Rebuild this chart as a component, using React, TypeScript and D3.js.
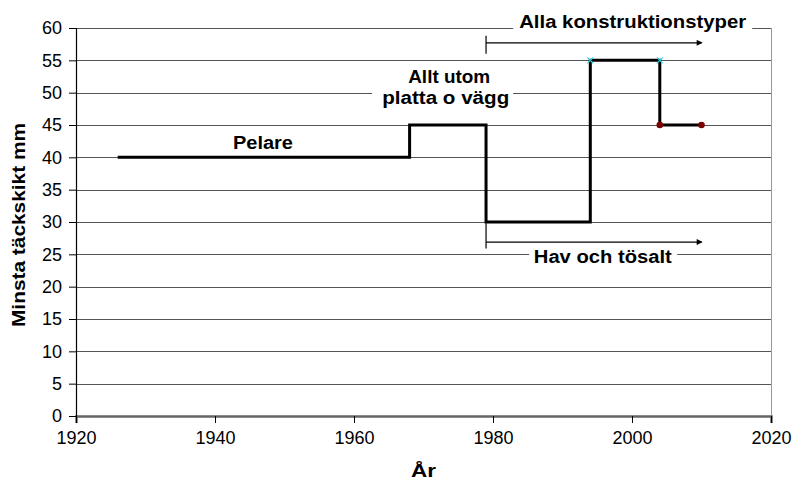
import React, { useEffect, useRef } from 'react';
import * as d3 from 'd3';

// Step series: year where the rule starts, minimum cover (mm)
const stepYears = [1926, 1968, 1979, 1994, 2004, 2010];
const stepValues = [40, 45, 30, 55, 45, 45];

// small markers sitting on the step corners
const cyanYears = [1994, 2004];
const cyanValues = [55, 55];
const redYears = [2004, 2010];
const redValues = [45, 45];

const yTicks = [0, 5, 10, 15, 20, 25, 30, 35, 40, 45, 50, 55, 60];
const xTicks = [1920, 1940, 1960, 1980, 2000, 2020];

// annotation arrows (start year, end year, level, tick top, tick bottom)
const arrowStart = [1979, 1979];
const arrowEnd = [2010, 2010];
const arrowLevel = [57.7, 26.9];
const arrowTop = [58.8, 29.8];
const arrowBottom = [56.0, 25.9];

// annotation texts, anchored in data units (centre year, baseline value)
const labelTexts = ['Alla konstruktionstyper', 'Hav och tösalt', 'Pelare', 'Allt utom', 'platta o vägg'];
const labelYears = [2000.1, 1995.8, 1946.9, 1973.7, 1973.2];
const labelValues = [60.05, 23.66, 41.29, 51.5, 48.25];
const labelLengths = [227, 138, 60, 82, 127];
const labelBoxFrom = [1982.9, 1985.2, 1941.9, 1965.0, 1962.6];
const labelBoxTo = [2017.3, 2006.5, 1951.9, 1982.0, 1982.9];

const FONT = '"Liberation Sans", Arial, Helvetica, sans-serif';

const App: React.FC = () => {
  const svgRef = useRef<SVGSVGElement>(null);

  useEffect(() => {
    if (!svgRef.current) return;
    const svg = d3.select(svgRef.current);
    svg.selectAll('*').remove();

    const width = 796;
    const height = 490;
    const margin = { top: 28, right: 25, bottom: 74, left: 76 };
    const innerWidth = width - margin.left - margin.right;
    const innerHeight = height - margin.top - margin.bottom;

    const x = d3.scaleLinear().domain([1920, 2020]).range([0, innerWidth]);
    const y = d3.scaleLinear().domain([0, 60]).range([innerHeight, 0]);

    const defs = svg.append('defs');
    defs.append('marker')
      .attr('id', 'arrowhead')
      .attr('viewBox', '0 0 10 10')
      .attr('refX', 8)
      .attr('refY', 5)
      .attr('markerWidth', 8)
      .attr('markerHeight', 6)
      .attr('markerUnits', 'userSpaceOnUse')
      .attr('orient', 'auto')
      .append('path')
      .attr('d', 'M0,0 L10,5 L0,10 Z')
      .attr('fill', '#000');

    svg.append('rect')
      .attr('width', width)
      .attr('height', height)
      .attr('fill', '#fff');

    const g = svg.append('g')
      .attr('transform', `translate(${margin.left},${margin.top})`);

    // Grid lines
    g.append('g')
      .selectAll('line')
      .data(yTicks.filter(t => t > 0))
      .join('line')
      .attr('x1', 0)
      .attr('x2', innerWidth)
      .attr('y1', d => Math.round(y(d)) + 0.5)
      .attr('y2', d => Math.round(y(d)) + 0.5)
      .attr('stroke', '#555')
      .attr('stroke-width', 1);

    // right border
    g.append('line')
      .attr('x1', innerWidth + 0.5)
      .attr('x2', innerWidth + 0.5)
      .attr('y1', 0)
      .attr('y2', innerHeight)
      .attr('stroke', '#999')
      .attr('stroke-width', 1);

    // Axes
    const xAxis = g.append('g')
      .attr('transform', `translate(0,${innerHeight})`)
      .call(d3.axisBottom(x).tickValues(xTicks).tickSize(7).tickPadding(8).tickFormat(d3.format('d')));
    xAxis.select('.domain').attr('stroke', '#666').attr('stroke-width', 2.5);
    xAxis.selectAll('.tick line').attr('stroke', '#000');
    xAxis.selectAll('text')
      .style('font-family', FONT)
      .style('font-size', '18px')
      .attr('fill', '#000');

    const yAxis = g.append('g')
      .call(d3.axisLeft(y).tickValues(yTicks).tickSize(7).tickPadding(7));
    yAxis.select('.domain').attr('stroke', '#000').attr('stroke-width', 1.2);
    yAxis.selectAll('.tick line').attr('stroke', '#000');
    yAxis.selectAll('text')
      .style('font-family', FONT)
      .style('font-size', '18px')
      .attr('fill', '#000');

    // Label boxes (white, hide the grid behind the text)
    labelTexts.forEach((_, i) => {
      g.append('rect')
        .attr('x', x(labelBoxFrom[i]))
        .attr('width', x(labelBoxTo[i]) - x(labelBoxFrom[i]))
        .attr('y', y(labelValues[i]) - 14)
        .attr('height', 18)
        .attr('fill', '#fff');
    });

    // Step line
    const pts = stepYears.map((yr, i) => [yr, stepValues[i]] as [number, number]);
    const line = d3.line<[number, number]>()
      .x(d => x(d[0]))
      .y(d => y(d[1]))
      .curve(d3.curveStepAfter);
    g.append('path')
      .datum(pts)
      .attr('d', line)
      .attr('fill', 'none')
      .attr('stroke', '#000')
      .attr('stroke-width', 3)
      .attr('stroke-linejoin', 'miter');

    // cyan x markers
    cyanYears.forEach((yr, i) => {
      const cx = x(yr);
      const cy = y(cyanValues[i]);
      g.append('path')
        .attr('d', `M${cx - 3},${cy - 3}L${cx + 3},${cy + 3}M${cx - 3},${cy + 3}L${cx + 3},${cy - 3}`)
        .attr('stroke', '#2dd8e6')
        .attr('stroke-width', 1.2);
    });

    // dark red dots
    g.selectAll('.reddot')
      .data(redYears.map((yr, i) => [yr, redValues[i]]))
      .join('circle')
      .attr('class', 'reddot')
      .attr('cx', d => x(d[0]))
      .attr('cy', d => y(d[1]))
      .attr('r', 3.3)
      .attr('fill', '#7a0000');

    // Arrows
    arrowStart.forEach((start, i) => {
      g.append('line')
        .attr('x1', x(start))
        .attr('x2', x(start))
        .attr('y1', y(arrowTop[i]))
        .attr('y2', y(arrowBottom[i]))
        .attr('stroke', '#000')
        .attr('stroke-width', 1.2);
      g.append('line')
        .attr('x1', x(start))
        .attr('x2', x(arrowEnd[i]))
        .attr('y1', y(arrowLevel[i]))
        .attr('y2', y(arrowLevel[i]))
        .attr('stroke', '#000')
        .attr('stroke-width', 1.2)
        .attr('marker-end', 'url(#arrowhead)');
    });

    // Label texts
    labelTexts.forEach((t, i) => {
      g.append('text')
        .attr('x', x(labelYears[i]))
        .attr('y', y(labelValues[i]))
        .attr('text-anchor', 'middle')
        .attr('textLength', labelLengths[i])
        .attr('lengthAdjust', 'spacingAndGlyphs')
        .style('font-family', FONT)
        .style('font-size', '18px')
        .style('font-weight', 'bold')
        .attr('fill', '#000')
        .text(t);
    });

    // X-axis label
    svg.append('text')
      .attr('x', margin.left + innerWidth / 2)
      .attr('y', 477)
      .attr('text-anchor', 'middle')
      .attr('textLength', 25)
      .attr('lengthAdjust', 'spacingAndGlyphs')
      .style('font-family', FONT)
      .style('font-size', '19px')
      .style('font-weight', 'bold')
      .text('År');

    // Y-axis label
    svg.append('text')
      .attr('transform', 'rotate(-90)')
      .attr('x', -225)
      .attr('y', 25)
      .attr('text-anchor', 'middle')
      .attr('textLength', 204)
      .attr('lengthAdjust', 'spacingAndGlyphs')
      .style('font-family', FONT)
      .style('font-size', '18px')
      .style('font-weight', 'bold')
      .text('Minsta täckskikt mm');
  }, []);

  return (
    <svg
      ref={svgRef}
      width={796}
      height={490}
      style={{ position: 'absolute', left: 0, top: 0, display: 'block' }}
    />
  );
};

export default App;
